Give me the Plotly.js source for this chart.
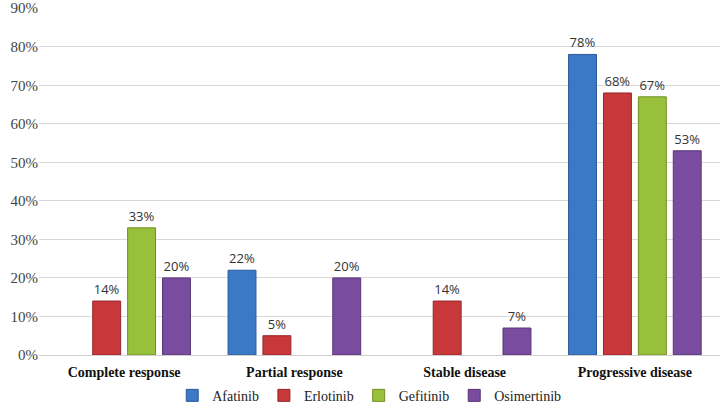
<!DOCTYPE html>
<html><head><meta charset="utf-8">
<script src="https://cdn.plot.ly/plotly-3.0.1.min.js"></script>
<style>html,body{margin:0;padding:0;background:#fff}#chart{width:724px;height:408px}</style>
</head><body><div id="chart"></div>
<script>
var categories = ["Complete response", "Partial response", "Stable disease", "Progressive disease"];
var seriesNames = ["Afatinib", "Erlotinib", "Gefitinib", "Osimertinib"];
var afatinib = [null, 22, null, 78];
var erlotinib = [14, 5, 14, 68];
var gefitinib = [33, null, null, 67];
var osimertinib = [20, 20, 7, 53];
var colors = ["#3b78c6", "#c8383a", "#99c03a", "#7a4c9f"];
var lineColors = ["#2a5a99", "#952628", "#6f8f22", "#573574"];
var tickVals = [0, 10, 20, 30, 40, 50, 60, 70, 80, 90];
var tickText = ["0%", "10%", "20%", "30%", "40%", "50%", "60%", "70%", "80%", "90%"];

var allData = [afatinib, erlotinib, gefitinib, osimertinib];
var traces = allData.map(function (vals, i) {
  return {
    type: "bar",
    name: seriesNames[i],
    x: categories,
    y: vals,
    text: vals.map(function (v) { return v === null ? "" : v + "%"; }),
    textposition: "outside",
    textfont: {family: "Open Sans, Liberation Sans, sans-serif", size: 13, color: "#333"},
    cliponaxis: false,
    marker: {color: colors[i], line: {color: lineColors[i], width: 1}},
    hoverinfo: "none"
  };
});

var layout = {
  width: 724, height: 408,
  margin: {l: 39, r: 4, t: 8, b: 53, autoexpand: false},
  paper_bgcolor: "#fff", plot_bgcolor: "#fff",
  barmode: "group",
  bargap: 0.18,
  bargroupgap: 0.2,
  showlegend: true,
  legend: {orientation: "h", x: 0.51, xanchor: "center", xref: "container",
    y: 0.03, yanchor: "middle", yref: "container",
    font: {family: "Liberation Serif, Times New Roman, serif", size: 14, color: "#222"},
    itemwidth: 30, traceorder: "normal"},
  xaxis: {
    tickfont: {family: "Liberation Serif, Times New Roman, serif", size: 14, color: "#111", weight: "bold"},
    showline: true, linecolor: "#d0d0d0", ticks: "", showgrid: false, automargin: false,
    ticklabelstandoff: 4
  },
  yaxis: {
    range: [0, 90.05], tickvals: tickVals, ticktext: tickText, tickmode: "array",
    ticklabeloverflow: "allow",
    tickfont: {family: "Liberation Serif, Times New Roman, serif", size: 15, color: "#444"},
    showgrid: true, gridcolor: "#d9d9d9", gridwidth: 1, zeroline: false,
    showline: false, ticks: "", ticklen: 0, automargin: false
  }
};

Plotly.newPlot("chart", traces, layout, {displayModeBar: false, staticPlot: true});
</script></body></html>
